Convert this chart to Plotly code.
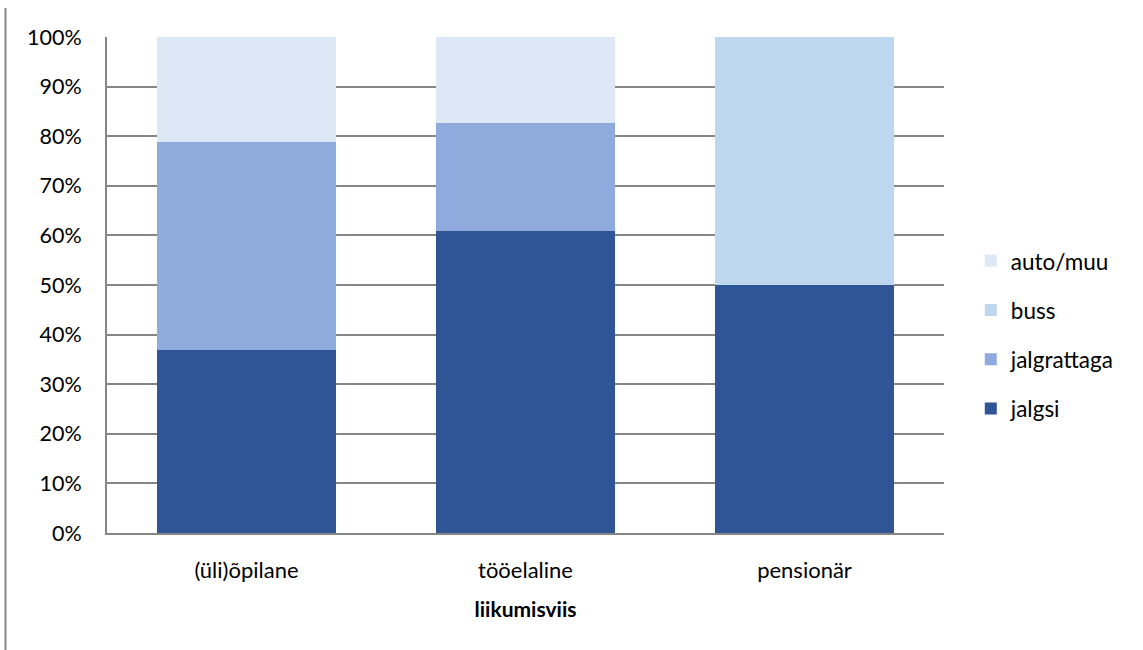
import plotly.graph_objects as go

categories = ["(üli)õpilane", "tööelaline", "pensionär"]
jalgsi = [36.8, 60.9, 50.0]
jalgrattaga = [42.1, 21.7, 0.0]
buss = [0.0, 0.0, 50.0]
auto_muu = [21.1, 17.4, 0.0]

series = [
    ("jalgsi", jalgsi, "#2F5597"),
    ("jalgrattaga", jalgrattaga, "#8FAADC"),
    ("buss", buss, "#BDD7EE"),
    ("auto/muu", auto_muu, "#DCE8F5"),
]

FONT = "Lato"
fig = go.Figure()
n = len(series)
for i, (name, vals, col) in enumerate(series):
    fig.add_trace(go.Bar(
        name=name, x=categories, y=vals, marker=dict(color=col, line=dict(width=0)),
        legendgroup=name, legendrank=n - i,
    ))

fig.update_layout(
    barmode="stack",
    bargap=0.36,
    width=1143, height=650,
    margin=dict(l=107, r=199, t=37, b=117),
    plot_bgcolor="white", paper_bgcolor="white",
    font=dict(family=FONT, size=21.5, color="#000000"),
    showlegend=True,
    legend=dict(
        traceorder="grouped", tracegroupgap=17,
        x=1.032, xanchor="left", y=0.4, yanchor="middle",
        font=dict(family=FONT, size=22.5),
        bgcolor="rgba(0,0,0,0)",
    ),
    xaxis=dict(
        showgrid=False, showline=True, linecolor="#868686", linewidth=2,
        ticks="", tickfont=dict(family=FONT, size=22), ticklabelstandoff=17,
        title=dict(text="<b>liikumisviis</b>", font=dict(family=FONT, size=21), standoff=20),
    ),
    yaxis=dict(
        range=[0, 100], dtick=10, ticksuffix="%",
        showgrid=True, gridcolor="#868686", gridwidth=2,
        showline=True, linecolor="#868686", linewidth=2,
        ticks="", ticklabelstandoff=19, zeroline=False,
        tickfont=dict(family=FONT, size=21.5),
    ),
    shapes=[dict(
        type="line", xref="paper", yref="paper",
        x0=(5.5 - 107) / 837, x1=(5.5 - 107) / 837,
        y0=(533 - 8) / 496, y1=(533 - 650) / 496,
        line=dict(color="#868686", width=2),
    )],
)

fig.write_html("out.html")
